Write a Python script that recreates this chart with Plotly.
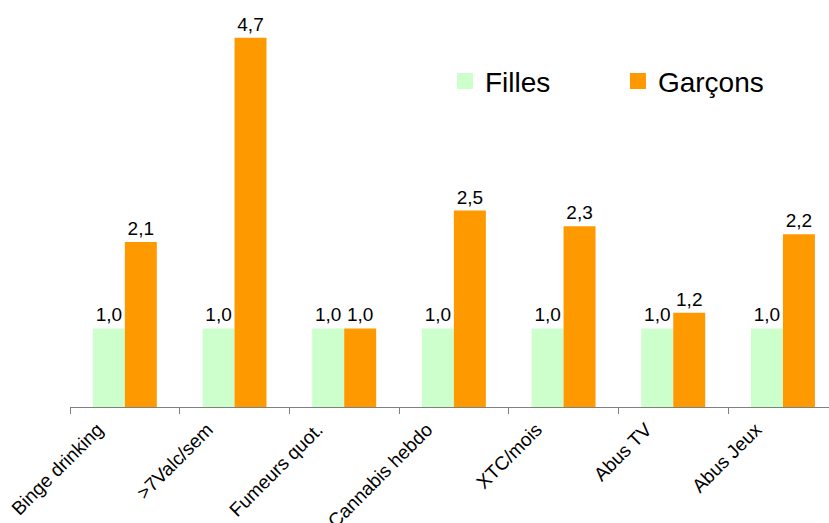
import plotly.graph_objects as go

categories = ["Binge drinking", ">7Valc/sem", "Fumeurs quot.", "Cannabis hebdo",
              "XTC/mois", "Abus TV", "Abus Jeux"]
filles = [1.0, 1.0, 1.0, 1.0, 1.0, 1.0, 1.0]
garcons = [2.1, 4.7, 1.0, 2.5, 2.3, 1.2, 2.2]

font_family = "Liberation Sans, Arial, sans-serif"
col_filles = "#CCFFCC"
col_garcons = "#FF9900"

fig = go.Figure()

for nom, vals, col in [("Filles", filles, col_filles), ("Garçons", garcons, col_garcons)]:
    fig.add_trace(go.Bar(
        x=categories, y=vals, name=nom,
        marker=dict(color=col, line=dict(width=0)),
        texttemplate="%{y:.1f}", textposition="outside",
        textfont=dict(size=19, color="black", family=font_family),
        cliponaxis=False,
        showlegend=False,
    ))

# entrées de légende avec des carrés plus gros
for nom, col in [("Filles", col_filles), ("Garçons", col_garcons)]:
    fig.add_trace(go.Scatter(
        x=[None], y=[None], mode="markers", name=nom,
        marker=dict(symbol="square", size=18, color=col),
    ))

fig.update_layout(
    width=829, height=523,
    separators=", ",
    barmode="group",
    bargap=0.417,
    bargroupgap=0,
    plot_bgcolor="white",
    paper_bgcolor="white",
    font=dict(family=font_family, color="black"),
    margin=dict(l=70, r=0, t=0, b=116),
    showlegend=True,
    legend=dict(
        orientation="h",
        x=0.494, y=0.80, xanchor="left", yanchor="middle",
        font=dict(size=28, color="black", family=font_family),
        bgcolor="rgba(0,0,0,0)",
        itemwidth=30,
        entrywidth=128,
    ),
    xaxis=dict(
        range=[-0.5, 6.42],
        automargin=False,
        tickangle=-45,
        tickfont=dict(size=19, color="black", family=font_family),
        ticklabelshift=-27,
        ticklabelstandoff=3,
        showline=True, linecolor="#808080", linewidth=1,
        ticks="outside", ticklen=6, tickcolor="#808080",
        tickson="boundaries",
        showgrid=False,
    ),
    yaxis=dict(
        range=[0, 5.18],
        visible=False,
        showgrid=False,
        zeroline=False,
    ),
)

fig.write_html("out.html", config={"displayModeBar": False},
               post_script="document.body.style.margin='0';document.body.style.overflow='hidden';")
